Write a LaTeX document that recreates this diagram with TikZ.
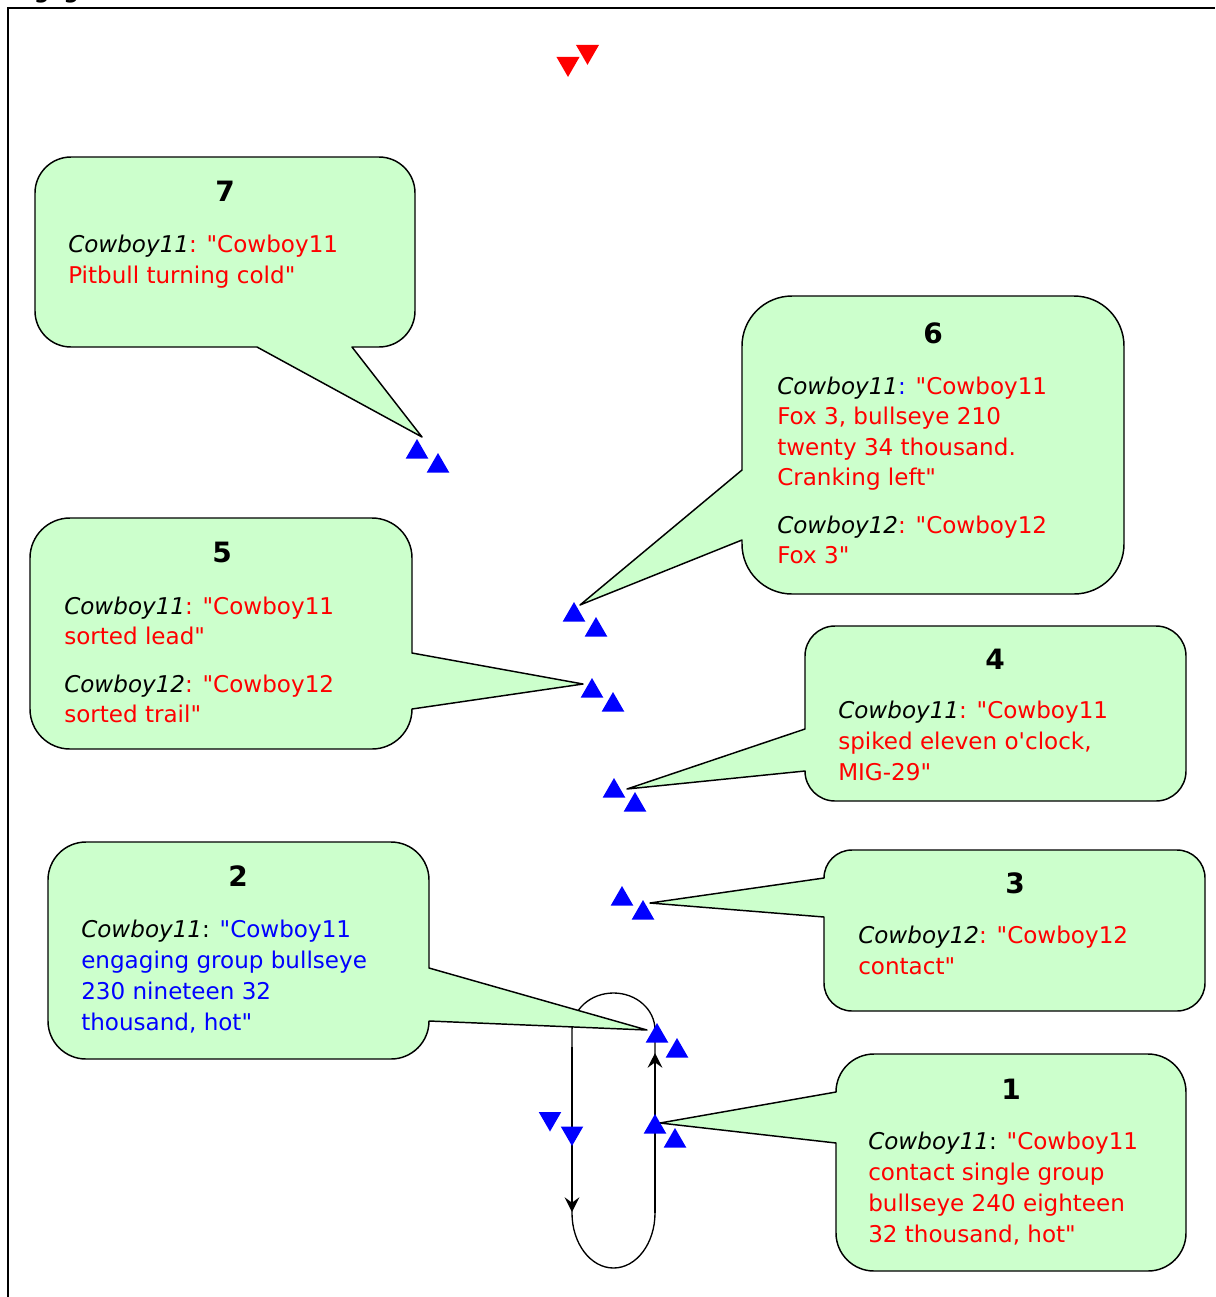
\documentclass[tikz,border=0pt]{standalone}
\usepackage{fontspec}
\newfontfamily\bubblefont{DejaVu Sans}
\usetikzlibrary{shapes.geometric, arrows.meta}
\definecolor{calloutgreen}{HTML}{CCFFCC}

% Rounded speech bubble: #1,#2 = top-left, #3,#4 = bottom-right, #5 = corner radius,
% #6..#9 = path pieces inserted on the top, right, bottom and left sides (the pointer).
\newcommand\bubble[9]{%
  \filldraw[bubble] (#1+#5,#2) #6 -- (#3-#5,#2)
    .. controls (#3-0.448*#5,#2) and (#3,#2+0.448*#5) .. (#3,#2+#5) #7
    -- (#3,#4-#5) .. controls (#3,#4-0.448*#5) and (#3-0.448*#5,#4) .. (#3-#5,#4) #8
    -- (#1+#5,#4) .. controls (#1+0.448*#5,#4) and (#1,#4-0.448*#5) .. (#1,#4-#5) #9
    -- (#1,#2+#5) .. controls (#1,#2+0.448*#5) and (#1+0.448*#5,#2) .. cycle;}
\newcommand\callsign[1]{{\color{black}\itshape #1}}

\tikzset{
  bubble/.style={fill=calloutgreen, draw=black, line width=1.1pt, line join=round},
  bubbletitle/.style={anchor=base, inner sep=0pt, text=black,
    font=\bubblefont\bfseries\fontsize{21}{25}\selectfont},
  say/.style={anchor=base west, inner sep=0pt, text=red,
    font=\bubblefont\fontsize{17.3}{23}\selectfont},
  jet/.style={regular polygon, regular polygon sides=3, minimum size=19.5pt,
    inner sep=0pt, fill=blue, draw=none},
  downjet/.style={jet, shape border rotate=180},
  bandit/.style={downjet, fill=red, minimum size=20pt},
  loopline/.style={draw=black, line width=1pt},
  runarrow/.style={draw=black, line width=2pt,
    -{Stealth[length=11pt, width=11pt, inset=4pt]}},
}

\begin{document}
\begin{tikzpicture}[x=0.75pt, y=-0.75pt]
\useasboundingbox (0,0) rectangle (1215,1297);

% slide heading, only its descenders fall inside the page
\begin{scope}
  \clip (0,0) rectangle (1215,7);
  \node[anchor=base west, inner sep=0pt, font=\bubblefont\bfseries\fontsize{16}{19}\selectfont]
    (heading) at (4,-2) {Engagement};
\end{scope}

% frame
\draw[line width=1.5pt] (7.5,1297) -- (7.5,8) -- (1215,8);

% racetrack orbit
\draw[loopline] (572,1030) arc[start angle=180, end angle=360, x radius=41.5, y radius=37]
  -- (655,1213) arc[start angle=0, end angle=180, x radius=41.5, y radius=55] -- cycle;
\coordinate (legLtop) at (572,1047);
\coordinate (legLbot) at (572,1212);
\coordinate (legRbot) at (655,1213);
\coordinate (legRtop) at (655,1053);
\draw[runarrow] (legLtop) -- (legLbot);
\draw[runarrow] (legRbot) -- (legRtop);

% pointer tips
\coordinate (tip7) at (422,437);
\coordinate (tip6) at (580,605);
\coordinate (tip5) at (583,684);
\coordinate (tip4) at (627,789);
\coordinate (tip3) at (650,903);
\coordinate (tip2) at (647,1030);
\coordinate (tip1) at (660,1123);

% callouts
\bubble{35}{157}{415}{347}{36}{}{}{-- (352,347) -- (tip7) -- (257,347)}{}
\bubble{742}{296}{1124}{594}{50}{}{}{}{-- (742,540) -- (tip6) -- (742,470)}
\bubble{30}{518}{412}{749}{40}{}{-- (412,653) -- (tip5) -- (412,709)}{}{}
\bubble{805}{626}{1186}{801}{30}{}{}{}{-- (805,771) -- (tip4) -- (805,729)}
\bubble{824}{850}{1205}{1011}{28}{}{}{}{-- (824,917) -- (tip3) -- (824,878)}
\bubble{48}{842}{429}{1059}{38}{}{-- (429,968) -- (tip2) -- (429,1021)}{}{}
\bubble{836}{1054}{1186}{1271}{38}{}{}{}{-- (836,1143) -- (tip1) -- (836,1092)}

% callout 7
\node[bubbletitle] (h7) at (225,201.5) {7};
\node[say] (c7a) at (68,252) {\callsign{Cowboy11}: "Cowboy11};
\node[say] (c7b) at (68,283) {Pitbull turning cold"};

% callout 6
\node[bubbletitle] (h6) at (933,343.5) {6};
\node[say] (c6a) at (777,394) {\callsign{Cowboy11}\textcolor{blue}{:} "Cowboy11};
\node[say] (c6b) at (777,424.5) {Fox 3, bullseye 210};
\node[say] (c6c) at (777,455) {twenty 34 thousand.};
\node[say] (c6d) at (777,485.5) {Cranking left"};
\node[say] (c6e) at (777,533) {\callsign{Cowboy12}: "Cowboy12};
\node[say] (c6f) at (777,563.5) {Fox 3"};

% callout 5
\node[bubbletitle] (h5) at (222,562.5) {5};
\node[say] (c5a) at (64,614) {\callsign{Cowboy11}: "Cowboy11};
\node[say] (c5b) at (64,644.5) {sorted lead"};
\node[say] (c5c) at (64,692) {\callsign{Cowboy12}: "Cowboy12};
\node[say] (c5d) at (64,722.5) {sorted trail"};

% callout 4
\node[bubbletitle] (h4) at (995,669.5) {4};
\node[say] (c4a) at (838,718) {\callsign{Cowboy11}: "Cowboy11};
\node[say] (c4b) at (838,749) {spiked eleven o'clock,};
\node[say] (c4c) at (838,780) {MIG-29"};

% callout 3
\node[bubbletitle] (h3) at (1015,893.5) {3};
\node[say] (c3a) at (858,943) {\callsign{Cowboy12}: "Cowboy12};
\node[say] (c3b) at (858,974) {contact"};

% callout 2
\node[bubbletitle] (h2) at (238,886.5) {2};
\node[say, text=blue] (c2a) at (81,937) {\callsign{Cowboy11}\textcolor{black}{:} "Cowboy11};
\node[say, text=blue] (c2b) at (81,968) {engaging group bullseye};
\node[say, text=blue] (c2c) at (81,999) {230 nineteen 32};
\node[say, text=blue] (c2d) at (81,1030) {thousand, hot"};

% callout 1
\node[bubbletitle] (h1) at (1011,1099.5) {1};
\node[say] (c1a) at (868,1149) {\callsign{Cowboy11}\textcolor{black}{:} "Cowboy11};
\node[say] (c1b) at (868,1180) {contact single group};
\node[say] (c1c) at (868,1211) {bullseye 240 eighteen};
\node[say] (c1d) at (868,1242) {32 thousand, hot"};

% friendly pairs
\node[jet] (f7a) at (417,452) {};
\node[jet] (f7b) at (438,466) {};
\node[jet] (f6a) at (574,615) {};
\node[jet] (f6b) at (596,630) {};
\node[jet] (f5a) at (592,691) {};
\node[jet] (f5b) at (613,705) {};
\node[jet] (f4a) at (614,791) {};
\node[jet] (f4b) at (635,805) {};
\node[jet] (f3a) at (622,899) {};
\node[jet] (f3b) at (643,913) {};
\node[jet] (f2a) at (657,1036) {};
\node[jet] (f2b) at (677,1051) {};
\node[jet] (f1a) at (655,1127) {};
\node[jet] (f1b) at (675,1141) {};
\node[downjet] (f0a) at (550,1118.5) {};
\node[downjet] (f0b) at (572,1133) {};

% bandits
\node[bandit] (e1) at (568,63.6) {};
\node[bandit] (e2) at (587.5,51.5) {};
\end{tikzpicture}
\end{document}
